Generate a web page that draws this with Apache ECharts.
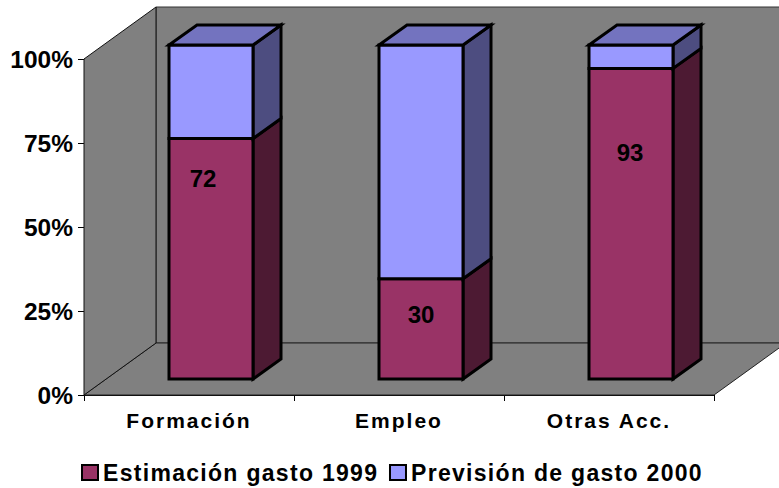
<!DOCTYPE html>
<html>
<head>
<meta charset="utf-8">
<style>
html,body{margin:0;padding:0;background:#fff}
#c{width:779px;height:488px}
#c text[style*="21px"]{letter-spacing:2px}
#c text[style*="23px"]{letter-spacing:1.3px}
</style>
<script src="https://cdn.jsdelivr.net/npm/echarts@6/dist/echarts.min.js"></script>
</head>
<body>
<div id="c"></div>
<script>
const categories = ['Formación', 'Empleo', 'Otras Acc.'];
const estimacion1999 = [72, 30, 93];
const prevision2000 = [28, 70, 7];
const seriesNames = ['Estimación gasto 1999', 'Previsión de gasto 2000'];
const valueLabels = ['72', '30', '93'];
const labelHeights = [59.8, 19.3, 67.3];
const labelShiftX = [14, 22, 21];

const FONT = '"Liberation Sans", Arial, sans-serif';
const DEPTH = [72, -52], BAR_DEPTH = [28, -20], BAR_SHIFT = [22, -16];
const BAR_W = 84, V_SCALE = 0.994;

const chart = echarts.init(document.getElementById('c'), null, {renderer: 'svg'});

function poly(points, fill, lw, stroke) {
  return {type: 'polygon', shape: {points},
    style: {fill, stroke: stroke || '#000', lineWidth: lw, lineJoin: 'miter'}};
}
function wallsRender(params, api) {
  const band = api.size([1, 0])[0];
  const x0 = api.coord([0, 0])[0] - band / 2;
  const x1 = api.coord([categories.length - 1, 0])[0] + band / 2;
  const y0 = api.coord([0, 0])[1], y1 = api.coord([0, 100])[1];
  const dx = DEPTH[0], dy = DEPTH[1];
  return {type: 'group', children: [
    poly([[x0 + dx, y1 + dy], [x1 + dx, y1 + dy], [x1 + dx, y0 + dy], [x0 + dx, y0 + dy]], '#808080', 1, '#333'),
    poly([[x0, y0], [x1, y0], [x1 + dx, y0 + dy], [x0 + dx, y0 + dy]], '#808080', 1, '#222'),
    poly([[x0, y1], [x0 + dx, y1 + dy], [x0 + dx, y0 + dy], [x0, y0]], '#808080', 1, '#111')
  ]};
}
function barRender(colors, hasTop, hasLabel) {
  return function (params, api) {
    const i = api.value(0), lo = api.value(1), hi = api.value(2);
    const cx = api.coord([i, 0])[0] + BAR_SHIFT[0];
    const y = v => api.coord([i, v * V_SCALE])[1] + BAR_SHIFT[1];
    const l = cx - BAR_W / 2, r = cx + BAR_W / 2, t = y(hi), b = y(lo);
    const dx = BAR_DEPTH[0], dy = BAR_DEPTH[1];
    const children = [
      poly([[r, t], [r + dx, t + dy], [r + dx, b + dy], [r, b]], colors[1], 3),
      poly([[l, t], [r, t], [r, b], [l, b]], colors[0], 3)
    ];
    if (hasTop) children.push(poly([[l, t], [l + dx, t + dy], [r + dx, t + dy], [r, t]], colors[2], 3));
    if (hasLabel) children.push({type: 'text', z2: 10, style: {
      text: valueLabels[i],
      x: api.coord([i, 0])[0] + labelShiftX[i],
      y: api.coord([i, labelHeights[i]])[1] + BAR_SHIFT[1],
      align: 'center', verticalAlign: 'middle',
      font: 'bold 24px ' + FONT, fill: '#000'
    }});
    return {type: 'group', children};
  };
}
const stackedA = categories.map((c, i) => [i, 0, estimacion1999[i]]);
const stackedB = categories.map((c, i) => [i, estimacion1999[i], estimacion1999[i] + prevision2000[i]]);

chart.setOption({
  animation: false,
  backgroundColor: '#fff',
  grid: {left: 84, right: 65, top: 59, bottom: 93},
  legend: {
    data: seriesNames, left: 76, top: 456, itemWidth: 16, itemHeight: 15, itemGap: 38,
    icon: 'rect', selectedMode: false,
    itemStyle: {borderColor: '#000', borderWidth: 2},
    textStyle: {fontFamily: FONT, fontWeight: 'bold', fontSize: 23, color: '#000'}
  },
  xAxis: {
    type: 'category', data: categories,
    axisLine: {show: true, lineStyle: {color: '#000', width: 1}},
    axisTick: {show: true, length: 6, alignWithLabel: false, lineStyle: {color: '#000'}},
    axisLabel: {fontFamily: FONT, fontWeight: 'bold', fontSize: 21, color: '#000', margin: 15, interval: 0},
    splitLine: {show: false}
  },
  yAxis: {
    type: 'value', min: 0, max: 100, interval: 25,
    axisLine: {show: true, lineStyle: {color: '#000', width: 1}},
    axisTick: {show: true, length: 6, lineStyle: {color: '#000'}},
    axisLabel: {formatter: '{value}%', fontFamily: FONT, fontWeight: 'bold', fontSize: 24.5, color: '#000', margin: 11},
    splitLine: {show: false}
  },
  series: [
    {type: 'custom', name: 'walls', silent: true, z: 1, data: [[0]], encode: {x: 0}, renderItem: wallsRender},
    {type: 'custom', name: seriesNames[0], z: 2, silent: true, clip: false,
      itemStyle: {color: '#993366', borderColor: '#000', borderWidth: 2},
      data: stackedA, encode: {x: 0, y: [1, 2]},
      renderItem: barRender(['#993366', '#4d1a33'], false, true)},
    {type: 'custom', name: seriesNames[1], z: 2, silent: true, clip: false,
      itemStyle: {color: '#9999ff', borderColor: '#000', borderWidth: 2},
      data: stackedB, encode: {x: 0, y: [1, 2]},
      renderItem: barRender(['#9999ff', '#4d4d80', '#7373bf'], true, false)}
  ]
});
</script>
</body>
</html>
